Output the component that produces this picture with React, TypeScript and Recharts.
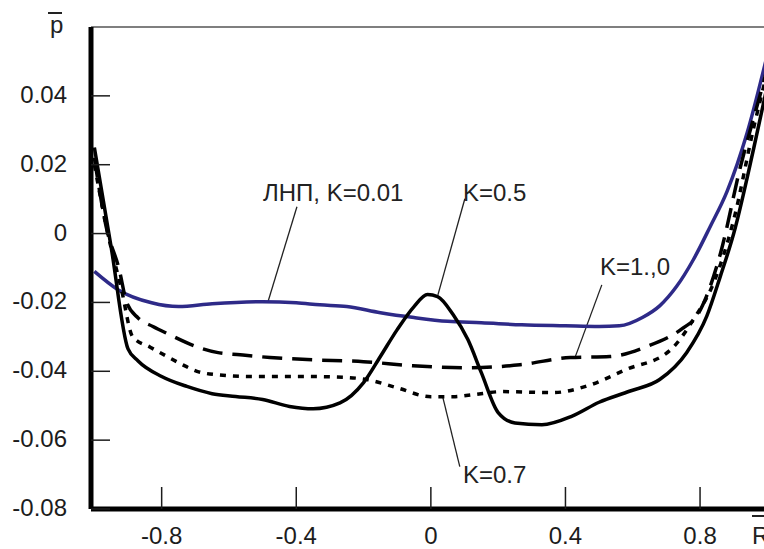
import React from "react";
import { LineChart, Line, XAxis, YAxis, ReferenceLine, Customized } from "recharts";

// radius values (R) and pressure (p)
const blueR = [-1.0, -0.93, -0.83, -0.75, -0.65, -0.5, -0.4, -0.33, -0.25, -0.15, -0.05, 0.05, 0.15, 0.27, 0.4, 0.5, 0.56, 0.63, 0.68, 0.73, 0.78, 0.83, 0.88, 0.94, 1.0];
const blueP = [-0.011, -0.0163, -0.0201, -0.0212, -0.0204, -0.0198, -0.0201, -0.0207, -0.0212, -0.023, -0.0244, -0.0255, -0.0259, -0.0265, -0.0268, -0.027, -0.0268, -0.0243, -0.021, -0.0154, -0.0076, 0.002, 0.0122, 0.0293, 0.052];

const k05R = [-1.0, -0.95, -0.9, -0.87, -0.8, -0.725, -0.65, -0.58, -0.5, -0.42, -0.35, -0.27, -0.2, -0.15, -0.1, -0.05, -0.01, 0.02, 0.066, 0.11, 0.15, 0.2, 0.25, 0.33, 0.42, 0.5, 0.59, 0.68, 0.76, 0.82, 0.86, 0.9, 0.96, 1.0];
const k05P = [0.025, -0.004, -0.0335, -0.037, -0.0415, -0.0444, -0.0465, -0.0473, -0.0482, -0.0502, -0.0509, -0.0492, -0.0433, -0.0357, -0.0279, -0.0212, -0.0177, -0.0183, -0.0235, -0.0308, -0.0404, -0.052, -0.055, -0.0555, -0.053, -0.049, -0.0458, -0.0424, -0.0346, -0.024, -0.0125, 0.0, 0.025, 0.043];

const k10R = [-1.0, -0.965, -0.926, -0.904, -0.87, -0.826, -0.784, -0.686, -0.636, -0.567, -0.478, -0.368, -0.2, -0.053, 0.107, 0.265, 0.414, 0.532, 0.642, 0.75, 0.79, 0.82, 0.86, 0.92, 0.98, 1.0];
const k10P = [0.022, 0.002, -0.0105, -0.02, -0.0245, -0.027, -0.029, -0.0332, -0.0345, -0.0352, -0.036, -0.0366, -0.0372, -0.0384, -0.039, -0.0381, -0.036, -0.0357, -0.0328, -0.0274, -0.024, -0.018, -0.006, 0.0194, 0.0408, 0.048];

const k07R = [-1.0, -0.96, -0.92, -0.886, -0.834, -0.784, -0.74, -0.695, -0.636, -0.53, -0.37, -0.25, -0.19, -0.1, 0.0, 0.066, 0.125, 0.214, 0.363, 0.46, 0.58, 0.71, 0.78, 0.84, 0.9, 0.96, 1.0];
const k07P = [0.02, 0.0, -0.016, -0.03, -0.033, -0.0357, -0.038, -0.04, -0.041, -0.0415, -0.0415, -0.0418, -0.0424, -0.0448, -0.0474, -0.0474, -0.0468, -0.0459, -0.0462, -0.0444, -0.0395, -0.034, -0.025, -0.0144, 0.004, 0.031, 0.047];

const xTicks = [-0.8, -0.4, 0, 0.4, 0.8];
const yTicks = [-0.08, -0.06, -0.04, -0.02, 0, 0.02, 0.04];

const toRows = (r: number[], p: number[]) => r.map((x, i) => ({ x, p: p[i] }));

const FONT = '"Liberation Sans", Arial, sans-serif';
const INK = "#1c1c1c";

function YTick({ x, y, payload }: any) {
  return (
    <g>
      <line x1={x} x2={x + 19} y1={y} y2={y} stroke={INK} strokeWidth={1.5} />
      <text x={x - 24} y={y + 7} textAnchor="end" fontSize={24} fontFamily={FONT} fill={INK}>
        {String(payload.value)}
      </text>
    </g>
  );
}

function XTick({ x, y, payload }: any) {
  return (
    <g>
      <line x1={x} x2={x} y1={y} y2={y - 22} stroke={INK} strokeWidth={1.5} />
      <text x={x} y={y + 35} textAnchor="middle" fontSize={24} fontFamily={FONT} fill={INK}>
        {String(payload.value)}
      </text>
    </g>
  );
}

function Labels() {
  const t = { fontSize: 24, fontFamily: FONT, fill: "#222" };
  return (
    <g>
      <text x={50} y={33} {...t}>p</text>
      <line x1={48} x2={62} y1={13} y2={13} stroke="#222" strokeWidth={2} />
      <text x={752} y={544} {...t}>R</text>
      <line x1={752} x2={770} y1={516} y2={516} stroke="#222" strokeWidth={2} />
      <text x={263} y={201} {...t}>ЛНП, K=0.01</text>
      <text x={463} y={201} {...t}>K=0.5</text>
      <text x={600} y={275} {...t}>K=1.,0</text>
      <text x={463} y={483} {...t}>K=0.7</text>
    </g>
  );
}

const leader = { stroke: "#222", strokeWidth: 1.3 };

export default function App() {
  return (
    <div style={{ position: "fixed", left: 0, top: 0, width: 764, height: 549, overflow: "hidden", background: "#fff" }}>
      <LineChart width={801} height={549} margin={{ top: 27, right: 0, bottom: 0, left: 0 }}>
        <XAxis
          type="number"
          dataKey="x"
          domain={[-1.01, 1.1]}
          ticks={xTicks}
          interval={0}
          allowDataOverflow
          height={40}
          tickSize={0}
          tickMargin={0}
          tick={<XTick />}
          axisLine={{ stroke: "#000", strokeWidth: 5 }}
        />
        <YAxis
          type="number"
          domain={[-0.08, 0.06]}
          ticks={yTicks}
          interval={0}
          allowDataOverflow
          width={91}
          tickSize={0}
          tickMargin={0}
          tick={<YTick />}
          axisLine={{ stroke: "#000", strokeWidth: 5 }}
        />
        <ReferenceLine y={0.06} stroke="#555" strokeWidth={1.5} />

        <ReferenceLine segment={[{ x: -0.398, y: 0.0078 }, { x: -0.484, y: -0.0198 }]} {...leader} />
        <ReferenceLine segment={[{ x: 0.101, y: 0.0101 }, { x: 0.021, y: -0.0178 }]} {...leader} />
        <ReferenceLine segment={[{ x: 0.508, y: -0.0149 }, { x: 0.428, y: -0.0361 }]} {...leader} />
        <ReferenceLine segment={[{ x: 0.036, y: -0.0477 }, { x: 0.086, y: -0.0677 }]} {...leader} />

        <Line data={toRows(blueR, blueP)} dataKey="p" type="monotone" dot={false} stroke="#2e2a88" strokeWidth={3.5} isAnimationActive={false} />
        <Line data={toRows(k10R, k10P)} dataKey="p" type="monotone" dot={false} stroke="#000" strokeWidth={3.5} strokeDasharray="20 10" isAnimationActive={false} />
        <Line data={toRows(k07R, k07P)} dataKey="p" type="monotone" dot={false} stroke="#000" strokeWidth={3.5} strokeDasharray="6 7" isAnimationActive={false} />
        <Line data={toRows(k05R, k05P)} dataKey="p" type="monotone" dot={false} stroke="#000" strokeWidth={3.5} isAnimationActive={false} />

        <Customized component={<Labels />} />
      </LineChart>
    </div>
  );
}
